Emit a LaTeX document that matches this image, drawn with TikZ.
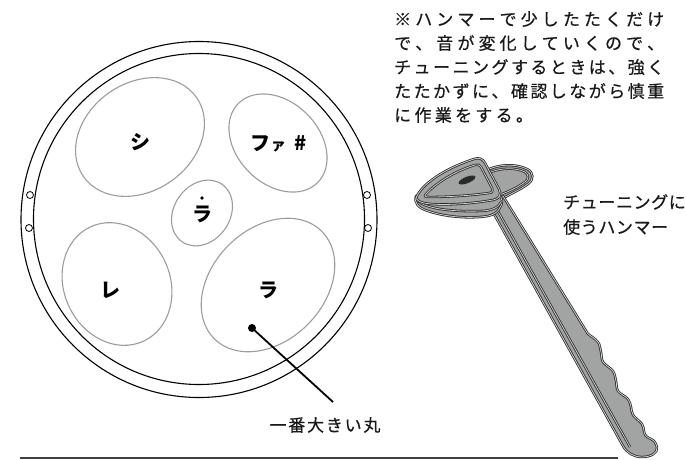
\documentclass[tikz,border=0pt]{standalone}
\usepackage{fontspec}
\newfontfamily\jp[FakeBold=0.6]{Noto Sans CJK JP}
\newfontfamily\jpnote{Noto Sans CJK JP}
\definecolor{hgray}{HTML}{A2A4A3}
\definecolor{hdark}{HTML}{2A2A2A}
\definecolor{hlight}{HTML}{CFCFCF}
\definecolor{padgray}{HTML}{9C9C9C}
% \trk{<separator>}{<text>}: puts <separator> between the characters of <text>
\makeatletter
\def\trk#1#2{\def\trk@sep{#1}\trk@first#2\trk@stop}
\def\trk@first#1{#1\trk@loop}
\def\trk@loop#1{\ifx\trk@stop#1\else\trk@sep#1\expandafter\trk@loop\fi}
\def\trk@stop{\trk@stop@}
\makeatother
\begin{document}
\begin{tikzpicture}[x=1pt,y=-1pt,
  ring/.style={draw=black, line width=1.1pt},
  pad/.style={draw=padgray, line width=1.1pt},
  bolt/.style={circle, draw=black, fill=white, line width=0.8pt, minimum size=7pt, inner sep=0pt},
  note/.style={font=\jpnote\bfseries\fontsize{20}{20}\selectfont, inner sep=0pt},
  body/.style={font=\jp\fontsize{17}{17}\selectfont, inner sep=0pt, text=black!90},
  hammer/.style={fill=hgray, draw=hdark, line width=0.8pt, double=hlight, double distance=0.8pt},
  hline/.style={draw=hdark, line width=0.8pt, double=hlight, double distance=0.8pt}]
\useasboundingbox (0,0) rectangle (686,459);

% drum rim
\draw[ring] (199,219.5) circle[radius=178pt];
\draw[ring] (199,219) circle[radius=165.5pt];
\node[bolt] (bl1) at (30,195) {};
\node[bolt] (bl2) at (29,228) {};
\node[bolt] (br1) at (367,195) {};
\node[bolt] (br2) at (368,228) {};

% tone fields
\draw[pad, rotate around={35:(140,137)}] (140,137) ellipse[x radius=69pt, y radius=54pt];
\draw[pad, rotate around={-45:(278,143)}] (278,143) ellipse[x radius=56pt, y radius=41pt];
\draw[pad, rotate around={55:(202,213)}] (202,213) ellipse[x radius=35pt, y radius=28pt];
\draw[pad, rotate around={115:(117,284)}] (117,284) ellipse[x radius=63pt, y radius=53pt];
\draw[pad, rotate around={45:(268,285)}] (268,285) ellipse[x radius=76pt, y radius=56pt];

% note names
\node[note] (si) at (140,142) {シ};
\node[note] (fa) at (279,144) {フ{\fontsize{15}{15}\selectfont ァ}\hspace{9pt}\#};
\node[note] (lahi) at (202,214) {ラ};
\node[circle, fill=black, minimum size=3.6pt, inner sep=0pt] (lahidot) at (202,198) {};
\node[note] (re) at (110,290) {レ};
\node[note] (la) at (268,290) {ラ};

% leader to the largest field
\node[circle, fill=black, minimum size=8pt, inner sep=0pt] (dot) at (252,328) {};
\coordinate (leadend) at (333,402);
\draw[line width=1.8pt] (dot.center) -- (leadend);
\node[body] (biglbl) at (325,425) {\trk{\kern1.8pt}{一番大きい丸}};

% floor line
\draw[line width=2pt, draw=black!75] (20,457.5) -- (618,457.5);

% note text
\node[body, anchor=base west] (p1) at (394,25.5) {\makebox[270pt][s]{\trk{\hfill}{※ハンマーで少したたくだけ}}};
\node[body, anchor=base west] (p2) at (394,49.5) {\makebox[270pt][s]{\trk{\hfill}{で、音が変化していくので、}}};
\node[body, anchor=base west] (p3) at (394,73.5) {\makebox[270pt][s]{\trk{\hfill}{チューニングするときは、強く}}};
\node[body, anchor=base west] (p4) at (394,97.5) {\makebox[270pt][s]{\trk{\hfill}{たたかずに、確認しながら慎重}}};
\node[body, anchor=base west] (p5) at (394,121.5) {\trk{\kern3.3pt}{に作業をする。}};

% hammer label
\node[body, anchor=base west] (h1) at (563,208.5) {\trk{\kern0.6pt}{チューニングに}};
\node[body, anchor=base west] (h2) at (563,233.5) {\trk{\kern0.6pt}{使うハンマー}};

% tuning hammer: back face
\draw[hammer] (483,172) .. controls (497,164) and (515,163) .. (527,169)
  .. controls (534,172) and (534,180) .. (528,184)
  .. controls (520,190) and (510,194) .. (502,199) -- (490,200) -- cycle;
\draw[hline] (488,173) .. controls (500,168) and (515,167) .. (525,172)
  .. controls (529,175) and (529,179) .. (525,182)
  .. controls (518,187) and (510,191) .. (502,194);
% handle with grip
\draw[hammer] (484,196) -- (623,446) .. controls (627,453) and (634,457) .. (642,457)
  .. controls (651,457) and (658,453) .. (657,447)
  -- plot[smooth, tension=0.55] coordinates {(657,447) (654,441) (646,436) (644,431) (642,424)
     (633,415) (631,407) (628,399) (618,391) (616,381) (613,371) (603,362) (601,352) (598,342) (588,334)}
  -- (503,196) -- cycle;
\draw[hline] (490,197) -- (630,447);
% head: side thickness
\draw[hammer] (416,196) .. controls (414,203) and (418,208) .. (428,211)
  .. controls (445,217) and (470,219) .. (488,216)
  .. controls (497,214) and (502,208) .. (502,200) -- (499,193) -- (418,195) -- cycle;
\draw[hline] (418,201) .. controls (425,208) and (450,212) .. (480,211)
  .. controls (492,211) and (499,207) .. (501,202);
% head: front face
\draw[hammer] (418,194) .. controls (428,178) and (455,165) .. (474,159)
  .. controls (479,157) and (483,159) .. (485,163) -- (499,189)
  .. controls (502,195) and (499,199) .. (493,200)
  .. controls (470,204) and (440,206) .. (424,203)
  .. controls (416,201) and (415,198) .. (418,194) -- cycle;
\draw[hline] (426,194) .. controls (438,181) and (458,170) .. (475,165)
  .. controls (478,164) and (480,165) .. (481,167) -- (492,188)
  .. controls (493,191) and (492,193) .. (489,193)
  .. controls (468,196) and (445,197) .. (429,197)
  .. controls (425,197) and (424,196) .. (426,194) -- cycle;
\fill[hdark, rotate around={22:(467,180)}] (467,180) ellipse[x radius=9pt, y radius=3.2pt];
\end{tikzpicture}
\end{document}
